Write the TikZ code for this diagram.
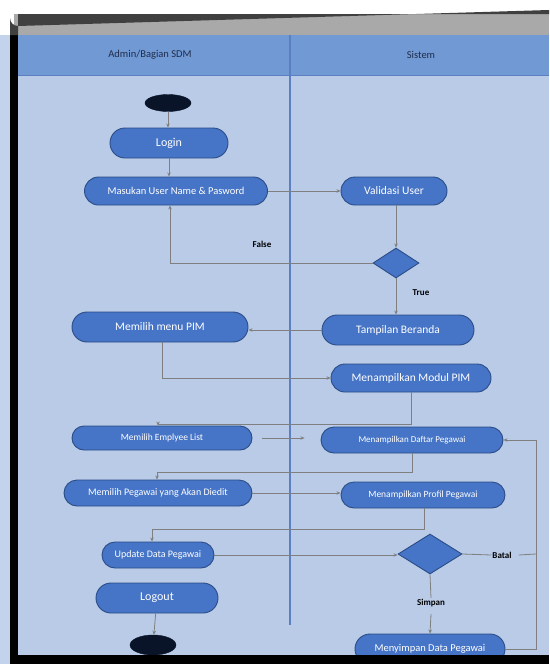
\documentclass[tikz,border=0pt]{standalone}
\usepackage{fontspec}
\setmainfont{Carlito}
\usetikzlibrary{shapes.misc,shapes.geometric,arrows.meta}
\definecolor{lanebg}{HTML}{B9CBE7}
\definecolor{headbg}{HTML}{7199D4}
\definecolor{topgray}{HTML}{A9A9A9}
\definecolor{nodefill}{HTML}{4674C6}
\definecolor{nodeline}{HTML}{2B4C86}
\definecolor{linegray}{HTML}{7F7F80}
\definecolor{navy}{HTML}{1F2D4D}
\definecolor{divider}{HTML}{5B7FC0}
\definecolor{blackdot}{HTML}{0A1428}
\definecolor{outerblue}{HTML}{C3D3EC}
\tikzset{
  act/.style={rounded rectangle, fill=nodefill, draw=nodeline, line width=0.9pt,
    text=white, inner sep=0pt},
  dec/.style={diamond, fill=nodefill, draw=nodeline, line width=0.9pt, inner sep=0pt, aspect=1.5},
  blob/.style={ellipse, fill=blackdot, draw=blackdot, inner sep=0pt},
  flow/.style={draw=linegray, line width=0.8pt, -{Stealth[length=4pt,width=3.5pt]}},
  plain/.style={draw=linegray, line width=0.8pt},
  lbl/.style={font=\fontsize{9}{10}\selectfont\bfseries, text=black, inner sep=1pt},
  head/.style={font=\fontsize{10.5}{12}\selectfont, text=navy}
}
\begin{document}
\begin{tikzpicture}[x=1pt,y=-1pt]
\useasboundingbox (0,0) rectangle (549,664);
\fill[white] (0,0) rectangle (549,664);
\fill[outerblue] (0,35) rectangle (10,664);
% frame backgrounds
\fill[lanebg] (14,35) rectangle (549,664);
\fill[topgray] (14,14) rectangle (549,35);
\fill[headbg] (14,35) rectangle (549,75);
\draw[divider, line width=1pt] (14,75) -- (549,75);
\draw[divider, line width=1.5pt] (290,35) -- (290,625);
\node[head] (h1) at (150,55) {Admin/Bagian SDM};
\node[head] (h2) at (421,55) {Sistem};
% nodes
\node[blob, minimum width=46pt, minimum height=17pt] (start) at (168,103) {};
\node[act, minimum width=118pt, minimum height=30pt, font=\fontsize{12}{14}\selectfont] (login) at (169,143) {Login};
\node[act, minimum width=183pt, minimum height=28pt, font=\fontsize{10.5}{12}\selectfont] (masuk) at (176,191) {Masukan User Name \& Pasword};
\node[act, minimum width=106pt, minimum height=28pt, font=\fontsize{11.5}{13}\selectfont] (valid) at (394,191) {Validasi User};
\node[dec, minimum width=46pt, minimum height=30pt] (d1) at (396,263) {};
\node[act, minimum width=152pt, minimum height=30pt, font=\fontsize{11.5}{13}\selectfont] (beranda) at (398,330) {Tampilan Beranda};
\node[act, minimum width=176pt, minimum height=30pt, font=\fontsize{11.5}{13}\selectfont] (pim) at (160,327) {Memilih menu PIM};
\node[act, minimum width=160pt, minimum height=28pt, font=\fontsize{11.5}{13}\selectfont] (modul) at (411,378) {Menampilkan Modul PIM};
\node[act, minimum width=180pt, minimum height=24pt, font=\fontsize{9.5}{11}\selectfont] (emp) at (162,438) {Memilih Emplyee List};
\node[act, minimum width=182pt, minimum height=26pt, font=\fontsize{9}{10}\selectfont] (daftar) at (412,440) {Menampilkan Daftar Pegawai};
\node[act, minimum width=188pt, minimum height=26pt, font=\fontsize{10}{11}\selectfont] (pilih) at (158,493) {Memilih Pegawai yang Akan Diedit};
\node[act, minimum width=164pt, minimum height=26pt, font=\fontsize{9.5}{11}\selectfont] (profil) at (423,495) {Menampilkan Profil Pegawai};
\node[act, minimum width=112pt, minimum height=26pt, font=\fontsize{10}{11}\selectfont] (update) at (158,555) {Update Data Pegawai};
\node[dec, minimum width=64pt, minimum height=40pt, aspect=1.6] (d2) at (430,554) {};
\node[act, minimum width=122pt, minimum height=30pt, font=\fontsize{12}{14}\selectfont] (logout) at (157,598) {Logout};
\node[blob, minimum width=46pt, minimum height=20pt] (end) at (153,645) {};
\node[act, minimum width=150pt, minimum height=30pt, font=\fontsize{10.5}{12}\selectfont] (simpan) at (430,649) {Menyimpan Data Pegawai};
% labels
\node[lbl] (lfalse) at (262,244) {False};
\node[lbl] (ltrue) at (421,293) {True};
\node[lbl] (lbatal) at (502,555) {Batal};
\node[lbl] (lsimpan) at (431,603) {Simpan};
\coordinate (rt) at (536,0);
% connectors
\draw[flow] (start) -- (start |- login.north);
\draw[flow] (login.south) -- (login.south |- masuk.north);
\draw[flow] (masuk.east) -- (masuk.east -| valid.west);
\draw[flow] (valid.south -| d1) -- (d1.north);
\draw[flow] (d1.west) -| ([xshift=-6pt]masuk.south);
\draw[flow] (d1.south) -- (d1.south |- beranda.north);
\draw[flow] (beranda.west) -- (beranda.west -| pim.east);
\draw[flow] ([xshift=2pt]pim.south) |- (modul.west);
\draw[flow] (modul.south) -- ++(0,32) -| ([xshift=-4pt]emp.north);
\draw[flow, shorten <=10pt, shorten >=16pt] (emp.east) -- (emp.east -| daftar.west);
\draw[flow] (daftar.south) -- ++(0,19) -| ([xshift=-1pt]pilih.north);
\draw[flow] (pilih.east) -- (pilih.east -| profil.west);
\draw[flow] ([xshift=1pt]profil.south) -- ++(0,21) -| ([xshift=-6pt]update.north);
\draw[flow] (update.east) -- (update.east -| d2.west);
\draw[plain] (d2.east) -- (lbatal.west);
\draw[plain] (lbatal.east) ++(6pt,0) -- (rt |- d2);
\draw[flow] (simpan.east) -| (rt |- daftar.east) -- (daftar.east);
\draw[plain] (d2.south) -- (lsimpan.north);
\draw[flow] ([yshift=-6pt]lsimpan.south) -- (simpan.north);
\draw[flow] (logout) -- (end);
% frame border
\fill[black] (10,655) rectangle (549,664);
\fill[black] (10,35) rectangle (18,664);
\fill[black!75] (10,35) -- (10,18) arc (180:90:8) -- (549,10) -- (549,14) -- (18,14) -- (18,35) -- cycle;
\end{tikzpicture}
\end{document}
